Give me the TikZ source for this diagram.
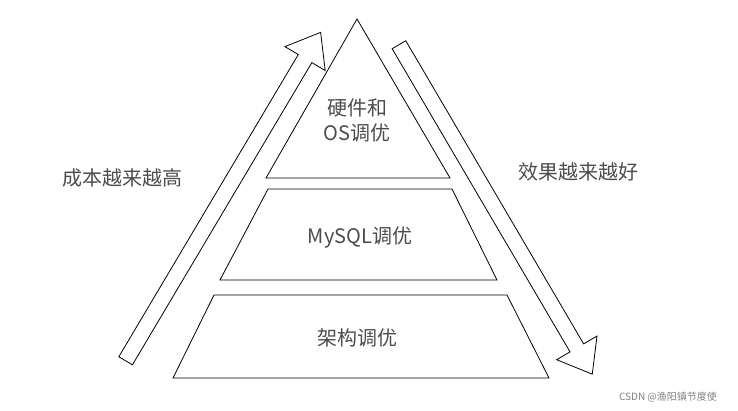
\documentclass[tikz,border=0pt]{standalone}
\usepackage{fontspec}
\setmainfont{Noto Sans CJK SC}
\usetikzlibrary{shapes.arrows}
\begin{document}
\begin{tikzpicture}[x=1pt,y=-1pt,font=\fontsize{20}{25}\selectfont]
	\colorlet{textcolor}{black!70}
	\tikzset{
		layer/.style={thick,line join=miter},
		bigarrow/.style={draw,thick,fill=white,single arrow,minimum width=46pt,
			single arrow head extend=15.5pt,single arrow tip angle=75,minimum height=382pt,
			inner xsep=0pt,inner ysep=7.5pt,anchor=center},
		label/.style={text=textcolor,align=center}
	}
	\useasboundingbox (0,0) rectangle (738,410);

	%pyramid
	\draw[layer] (357,19) -- (450,178) -- (266,178) -- cycle;
	\draw[layer] (268,189) -- (452,189) -- (497,280) -- (220,280) -- cycle;
	\draw[layer] (214,295) -- (507,295) -- (549,378) -- (173,378) -- cycle;

	%arrows
	\node[bigarrow,rotate=59.3] (larrow) at (220.5,201) {};
	\node[bigarrow,rotate=-59.6] (rarrow) at (493,205) {};

	%labels
	\node[label] (hw) at (357,120) {硬件和\\OS调优};
	\node[label] (mysql) at (360,237) {MySQL调优};
	\node[label] (arch) at (357,338) {架构调优};
	\node[label] (cost) at (122,178) {成本越来越高};
	\node[label] (effect) at (578,172) {效果越来越好};
	\node[text=black!50,font=\fontsize{10}{12}\selectfont] (mark) at (668,397) {CSDN @渔阳镇节度使};
\end{tikzpicture}
\end{document}
